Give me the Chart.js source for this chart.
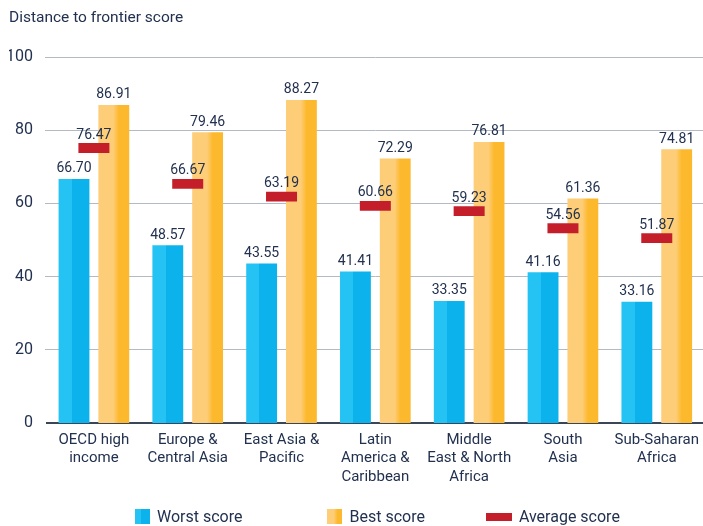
<!DOCTYPE html>
<html>
<head>
<meta charset="utf-8">
<script src="https://cdn.jsdelivr.net/npm/chart.js@4.4.1/dist/chart.umd.min.js"></script>
<style>
  body { margin: 0; overflow: hidden; background: #fff; }
  #wrap { position: relative; width: 707px; height: 526px; }
  #legend {
    position: absolute; top: 509px; left: 135px;
    display: flex;
    font: 16px Roboto, sans-serif; color: #22314f;
  }
  #legend .item { display: flex; align-items: center; height: 15px; line-height: 15px; }
  #legend .item:nth-child(2) { margin-left: 85px; }
  #legend .item:nth-child(3) { margin-left: 61px; }
  #legend .swatch { display: inline-block; margin-right: 7px; }
</style>
</head>
<body>
<div id="wrap">
  <canvas id="chart" width="707" height="526"></canvas>
  <div id="legend"></div>
</div>
<script>
'use strict';

const categories = [
  ['OECD high', 'income'],
  ['Europe &', 'Central Asia'],
  ['East Asia &', 'Pacific'],
  ['Latin', 'America &', 'Caribbean'],
  ['Middle', 'East & North', 'Africa'],
  ['South', 'Asia'],
  ['Sub-Saharan', 'Africa']
];
const worstScores = [66.70, 48.57, 43.55, 41.41, 33.35, 41.16, 33.16];
const bestScores = [86.91, 79.46, 88.27, 72.29, 76.81, 61.36, 74.81];
const averageScores = [76.47, 66.67, 63.19, 60.66, 59.23, 54.56, 51.87];
const yTicks = [0, 20, 40, 60, 80, 100];

const NAVY = '#22314f';
const CAT_PCT = 0.8485;
const BAR_PCT = 0.775;
const MARKER = 2.7; // marker height in score units

// Two-tone fill across each bar, positioned from the category scale
function barFill(stops, side) {
  return function(c) {
    const xs = c.chart.scales.x;
    const fallback = stops[stops.length - 1][1];
    if (!c.chart.chartArea || !xs) return fallback;
    const chunk = xs.width / categories.length * CAT_PCT / 2;
    const w = chunk * BAR_PCT;
    const cx = xs.getPixelForValue(c.dataIndex) + side * chunk / 2;
    if (!Number.isFinite(cx) || !Number.isFinite(w)) return fallback;
    const g = c.chart.ctx.createLinearGradient(cx - w / 2, 0, cx + w / 2, 0);
    stops.forEach(s => g.addColorStop(s[0], s[1]));
    return g;
  };
}

const blueStops = [[0, '#25c3f3'], [0.43, '#25c3f3'], [0.43, '#0bb2ec'], [1, '#0bb2ec']];
const orangeStops = [[0, '#fdcd78'], [0.48, '#fdcd78'], [0.66, '#fdb92e'], [1, '#fdb92e']];

const valueLabels = {
  id: 'valueLabels',
  afterDatasetsDraw(chart) {
    const ctx = chart.ctx;
    ctx.save();
    ctx.font = '14px Roboto, sans-serif';
    ctx.fillStyle = NAVY;
    ctx.textAlign = 'center';
    ctx.textBaseline = 'bottom';
    chart.data.datasets.forEach((ds, i) => {
      chart.getDatasetMeta(i).data.forEach((bar, j) => {
        const top = Math.min(bar.y, bar.base);
        ctx.fillText(ds.values[j].toFixed(2), bar.x, top - (ds.grouped === false ? 1 : 3));
      });
    });
    ctx.restore();
  }
};

const htmlLegend = {
  id: 'htmlLegend',
  afterUpdate(chart) {
    const box = document.getElementById('legend');
    box.innerHTML = '';
    chart.data.datasets.forEach(ds => {
      const item = document.createElement('div');
      item.className = 'item';
      const sw = document.createElement('span');
      sw.className = 'swatch';
      sw.style.cssText = ds.swatch;
      item.appendChild(sw);
      item.appendChild(document.createTextNode(ds.label));
      box.appendChild(item);
    });
  }
};

new Chart(document.getElementById('chart'), {
  type: 'bar',
  data: {
    labels: categories,
    datasets: [
      {
        label: 'Worst score',
        values: worstScores,
        data: worstScores,
        backgroundColor: barFill(blueStops, -1),
        categoryPercentage: CAT_PCT,
        barPercentage: BAR_PCT,
        order: 1,
        swatch: 'width:15px;height:15px;background:linear-gradient(90deg,#25c3f3 43%,#0bb2ec 43%)'
      },
      {
        label: 'Best score',
        values: bestScores,
        data: bestScores,
        backgroundColor: barFill(orangeStops, 1),
        categoryPercentage: CAT_PCT,
        barPercentage: BAR_PCT,
        order: 2,
        swatch: 'width:15px;height:15px;background:linear-gradient(90deg,#fdcd78 45%,#fdb92e 70%)'
      },
      {
        label: 'Average score',
        values: averageScores,
        data: averageScores.map(v => [v - MARKER, v]),
        backgroundColor: '#c41e2b',
        grouped: false,
        maxBarThickness: 31,
        order: 0,
        swatch: 'width:26px;height:8px;background:#c41e2b'
      }
    ]
  },
  options: {
    responsive: false,
    animation: false,
    layout: { padding: { left: 9, right: 0, top: 0, bottom: 0 } },
    plugins: {
      legend: { display: false },
      tooltip: { enabled: false },
      title: {
        display: true,
        text: 'Distance to frontier score',
        align: 'start',
        color: NAVY,
        font: { family: 'Roboto', size: 15.5, weight: 'normal', lineHeight: 1.2 },
        padding: { top: 9, bottom: 29.4, left: 2 }
      }
    },
    scales: {
      x: {
        grid: { display: false, drawTicks: false },
        border: { display: true, color: '#3a4658', width: 2 },
        ticks: {
          color: NAVY,
          padding: 8,
          maxRotation: 0,
          autoSkip: false,
          font: { family: 'Roboto', size: 15, lineHeight: 1.23 }
        },
        afterFit(s) { s.height = 103; }
      },
      y: {
        min: 0,
        max: 100,
        afterBuildTicks(s) { s.ticks = yTicks.map(v => ({ value: v })); },
        grid: {
          drawTicks: true,
          tickLength: 2,
          color: c => (c.tick && c.tick.value === 0 ? '#3a4658' : '#b3bac4'),
          lineWidth: c => (c.tick && c.tick.value === 0 ? 0 : 1)
        },
        border: { display: false },
        ticks: {
          color: NAVY,
          padding: 12,
          font: { family: 'Roboto', size: 16 }
        },
        afterFit(s) { s.width = 38; }
      }
    }
  },
  plugins: [valueLabels, htmlLegend]
});
</script>
</body>
</html>
